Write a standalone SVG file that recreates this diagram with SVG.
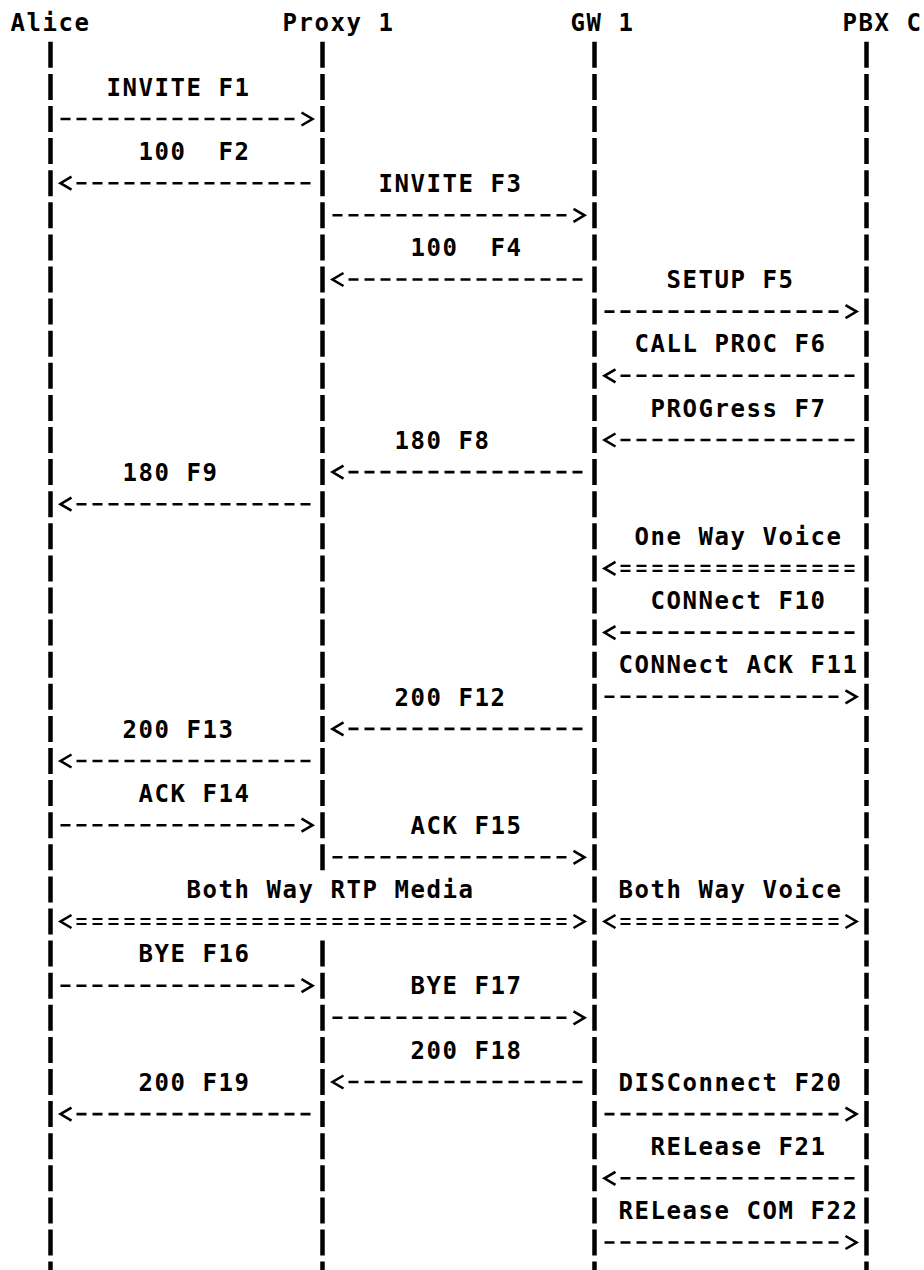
<svg xmlns="http://www.w3.org/2000/svg" width="924" height="1270" viewBox="0 0 924 1270">
<style>
text{font-family:"DejaVu Sans Mono","Liberation Mono",monospace;font-weight:bold;font-size:24px;letter-spacing:1.551px;fill:#000;white-space:pre}
.ll{stroke:#000;stroke-width:4.5;stroke-dasharray:26 6.1;fill:none}
.d{stroke:#000;stroke-width:2.6;stroke-dasharray:10 6;fill:none}
.e{stroke:#000;stroke-width:2.2;stroke-dasharray:10 6;fill:none}
.h{stroke:#000;stroke-width:2.6;fill:none;stroke-linejoin:miter}
</style>
<rect width="924" height="1270" fill="#fff"/>
<g id="alice"><text x="10.5" y="31.4">Alice</text><line class="ll" x1="50.5" y1="41.8" x2="50.5" y2="1290"/></g>
<g id="proxy1"><text x="282.5" y="31.4">Proxy 1</text><line class="ll" x1="322.5" y1="41.8" x2="322.5" y2="870.3"/><line class="ll" x1="322.5" y1="940.6" x2="322.5" y2="1290"/></g>
<g id="gw1"><text x="570.5" y="31.4">GW 1</text><line class="ll" x1="594.5" y1="41.8" x2="594.5" y2="1290"/></g>
<g id="pbxc"><text x="842.5" y="31.4">PBX C</text><line class="ll" x1="866.5" y1="41.8" x2="866.5" y2="1290"/></g>
<g id="connectors">
<g id="f1"><text x="106.5" y="95.6">INVITE F1</text><line class="d" x1="60.5" y1="119" x2="298.5" y2="119"/><polyline class="h" points="301.5,112.5 312.5,119 301.5,125.5"/></g>
<g id="f2"><text x="138.5" y="159.8" xml:space="preserve">100  F2</text><polyline class="h" points="71.5,176.7 60.5,183.2 71.5,189.7"/><line class="d" x1="76.5" y1="183.2" x2="314.5" y2="183.2"/></g>
<g id="f3"><text x="378.5" y="191.9">INVITE F3</text><line class="d" x1="332.5" y1="215.3" x2="570.5" y2="215.3"/><polyline class="h" points="573.5,208.8 584.5,215.3 573.5,221.8"/></g>
<g id="f4"><text x="410.5" y="256.1" xml:space="preserve">100  F4</text><polyline class="h" points="343.5,273 332.5,279.5 343.5,286"/><line class="d" x1="348.5" y1="279.5" x2="586.5" y2="279.5"/></g>
<g id="f5"><text x="666.5" y="288.2">SETUP F5</text><line class="d" x1="604.5" y1="311.6" x2="842.5" y2="311.6"/><polyline class="h" points="845.5,305.1 856.5,311.6 845.5,318.1"/></g>
<g id="f6"><text x="634.5" y="352.4">CALL PROC F6</text><polyline class="h" points="615.5,369.3 604.5,375.8 615.5,382.3"/><line class="d" x1="620.5" y1="375.8" x2="858.5" y2="375.8"/></g>
<g id="f7"><text x="650.5" y="416.6">PROGress F7</text><polyline class="h" points="615.5,433.5 604.5,440 615.5,446.5"/><line class="d" x1="620.5" y1="440" x2="858.5" y2="440"/></g>
<g id="f8"><text x="394.5" y="448.7">180 F8</text><polyline class="h" points="343.5,465.6 332.5,472.1 343.5,478.6"/><line class="d" x1="348.5" y1="472.1" x2="586.5" y2="472.1"/></g>
<g id="f9"><text x="122.5" y="480.8">180 F9</text><polyline class="h" points="71.5,497.7 60.5,504.2 71.5,510.7"/><line class="d" x1="76.5" y1="504.2" x2="314.5" y2="504.2"/></g>
<g id="oneway"><text x="634.5" y="545">One Way Voice</text><polyline class="h" points="615.5,561.9 604.5,568.4 615.5,574.9"/><line class="e" x1="620.5" y1="565.9" x2="858.5" y2="565.9"/><line class="e" x1="620.5" y1="570.9" x2="858.5" y2="570.9"/></g>
<g id="f10"><text x="650.5" y="609.2">CONNect F10</text><polyline class="h" points="615.5,626.1 604.5,632.6 615.5,639.1"/><line class="d" x1="620.5" y1="632.6" x2="858.5" y2="632.6"/></g>
<g id="f11"><text x="618.5" y="673.4">CONNect ACK F11</text><line class="d" x1="604.5" y1="696.8" x2="842.5" y2="696.8"/><polyline class="h" points="845.5,690.3 856.5,696.8 845.5,703.3"/></g>
<g id="f12"><text x="394.5" y="705.5">200 F12</text><polyline class="h" points="343.5,722.4 332.5,728.9 343.5,735.4"/><line class="d" x1="348.5" y1="728.9" x2="586.5" y2="728.9"/></g>
<g id="f13"><text x="122.5" y="737.6">200 F13</text><polyline class="h" points="71.5,754.5 60.5,761 71.5,767.5"/><line class="d" x1="76.5" y1="761" x2="314.5" y2="761"/></g>
<g id="f14"><text x="138.5" y="801.8">ACK F14</text><line class="d" x1="60.5" y1="825.2" x2="298.5" y2="825.2"/><polyline class="h" points="301.5,818.7 312.5,825.2 301.5,831.7"/></g>
<g id="f15"><text x="410.5" y="833.9">ACK F15</text><line class="d" x1="332.5" y1="857.3" x2="570.5" y2="857.3"/><polyline class="h" points="573.5,850.8 584.5,857.3 573.5,863.8"/></g>
<g id="rtp"><text x="186.5" y="898.1">Both Way RTP Media</text><polyline class="h" points="71.5,915 60.5,921.5 71.5,928"/><line class="e" x1="76.5" y1="919" x2="570.5" y2="919"/><line class="e" x1="76.5" y1="924" x2="570.5" y2="924"/><polyline class="h" points="573.5,915 584.5,921.5 573.5,928"/></g>
<g id="voice"><text x="618.5" y="898.1">Both Way Voice</text><polyline class="h" points="615.5,915 604.5,921.5 615.5,928"/><line class="e" x1="620.5" y1="919" x2="842.5" y2="919"/><line class="e" x1="620.5" y1="924" x2="842.5" y2="924"/><polyline class="h" points="845.5,915 856.5,921.5 845.5,928"/></g>
<g id="f16"><text x="138.5" y="962.3">BYE F16</text><line class="d" x1="60.5" y1="985.7" x2="298.5" y2="985.7"/><polyline class="h" points="301.5,979.2 312.5,985.7 301.5,992.2"/></g>
<g id="f17"><text x="410.5" y="994.4">BYE F17</text><line class="d" x1="332.5" y1="1017.8" x2="570.5" y2="1017.8"/><polyline class="h" points="573.5,1011.3 584.5,1017.8 573.5,1024.3"/></g>
<g id="f18"><text x="410.5" y="1058.6">200 F18</text><polyline class="h" points="343.5,1075.5 332.5,1082 343.5,1088.5"/><line class="d" x1="348.5" y1="1082" x2="586.5" y2="1082"/></g>
<g id="f19"><text x="138.5" y="1090.7">200 F19</text><polyline class="h" points="71.5,1107.6 60.5,1114.1 71.5,1120.6"/><line class="d" x1="76.5" y1="1114.1" x2="314.5" y2="1114.1"/></g>
<g id="f20"><text x="618.5" y="1090.7">DISConnect F20</text><line class="d" x1="604.5" y1="1114.1" x2="842.5" y2="1114.1"/><polyline class="h" points="845.5,1107.6 856.5,1114.1 845.5,1120.6"/></g>
<g id="f21"><text x="650.5" y="1154.9">RELease F21</text><polyline class="h" points="615.5,1171.8 604.5,1178.3 615.5,1184.8"/><line class="d" x1="620.5" y1="1178.3" x2="858.5" y2="1178.3"/></g>
<g id="f22"><text x="618.5" y="1219.1">RELease COM F22</text><line class="d" x1="604.5" y1="1242.5" x2="842.5" y2="1242.5"/><polyline class="h" points="845.5,1236 856.5,1242.5 845.5,1249"/></g>
</g>
</svg>
